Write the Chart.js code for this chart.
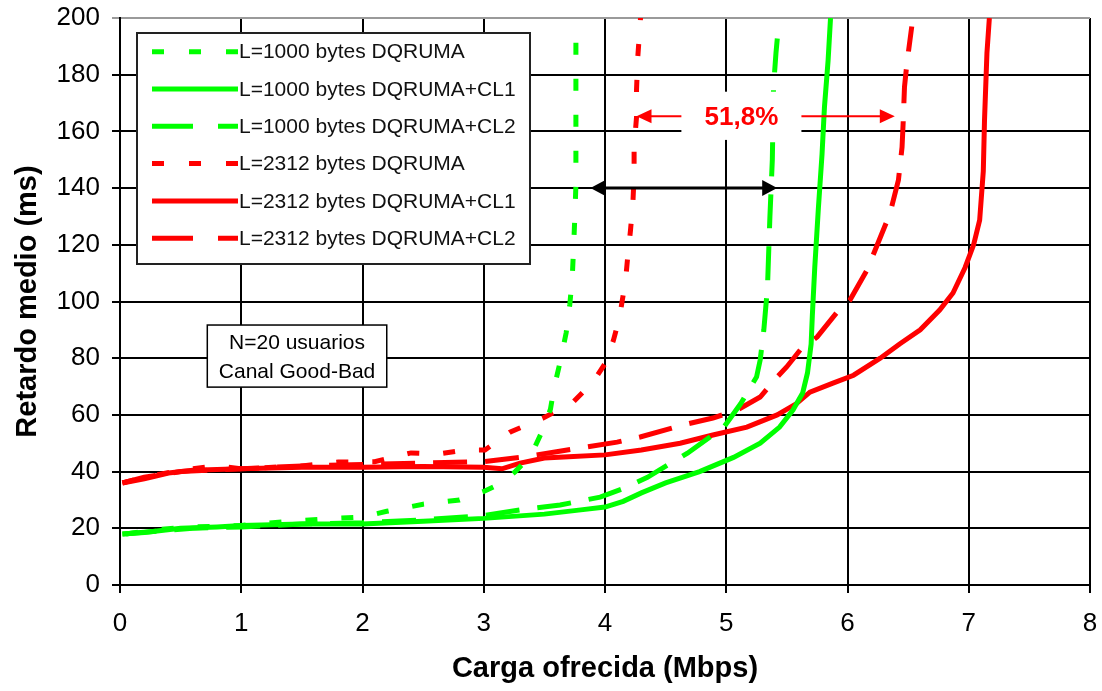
<!DOCTYPE html>
<html>
<head>
<meta charset="utf-8">
<script src="https://cdn.jsdelivr.net/npm/chart.js@4.4.1/dist/chart.umd.min.js"></script>
<style>
  html, body { margin: 0; padding: 0; background: #fff; }
  #wrap { width: 1102px; height: 691px; position: relative; }
</style>
</head>
<body>
<div id="wrap"><canvas id="chart"></canvas></div>
<script>
const seriesLabels = [
    'L=1000 bytes DQRUMA',
    'L=1000 bytes DQRUMA+CL1',
    'L=1000 bytes DQRUMA+CL2',
    'L=2312 bytes DQRUMA',
    'L=2312 bytes DQRUMA+CL1',
    'L=2312 bytes DQRUMA+CL2'
];
const xTicks = [0, 1, 2, 3, 4, 5, 6, 7, 8];
const yTicks = [0, 20, 40, 60, 80, 100, 120, 140, 160, 180, 200];

// L=1000 DQRUMA
const g1x = [0.05, 0.3, 0.6, 1.0, 1.4, 1.8, 2.0, 2.2, 2.5, 2.8, 3.0, 3.15, 3.26, 3.35, 3.41, 3.49, 3.55, 3.58, 3.63, 3.68, 3.71, 3.73, 3.74, 3.75, 3.76, 3.76, 3.76, 3.76, 3.76];
const g1y = [18, 19.5, 20.5, 21, 22.5, 23.6, 24, 26, 28.5, 30, 33, 36, 40, 44, 47.6, 55, 62, 69.5, 78.7, 89, 99, 108.6, 118, 128.7, 141, 153, 166, 177, 192];
// L=1000 DQRUMA+CL1
const g2x = [0.02, 0.2, 0.5, 0.8, 1.0, 1.5, 2.0, 2.5, 3.0, 3.5, 3.8, 4.0, 4.15, 4.3, 4.5, 4.78, 5.06, 5.28, 5.44, 5.55, 5.63, 5.67, 5.7, 5.71, 5.73, 5.76, 5.79, 5.81, 5.84, 5.86];
const g2y = [18, 18.5, 20, 20.5, 21, 21.5, 21.5, 22.5, 23.5, 25, 26.5, 27.5, 29.5, 32.5, 36, 40, 45, 50, 55.7, 61.7, 67.7, 74.8, 85, 95, 112, 133, 152, 168.6, 185, 200];
// L=1000 DQRUMA+CL2
const g3x = [0.02, 0.3, 0.6, 1.0, 1.5, 2.0, 2.5, 3.0, 3.3, 3.63, 3.96, 4.15, 4.35, 4.68, 4.98, 5.12, 5.25, 5.28, 5.31, 5.34, 5.36, 5.38, 5.39, 5.41, 5.43];
const g3y = [18, 19, 20, 20.5, 21.5, 22, 23, 24.5, 26.5, 28.2, 31, 34, 38, 46.5, 55.7, 64, 73.4, 79.4, 90, 105, 129.8, 150, 175.7, 187.6, 197];
// L=2312 DQRUMA
const r1x = [0.02, 0.2, 0.5, 0.8, 1.0, 1.5, 1.8, 2.1, 2.4, 2.62, 2.84, 3.01, 3.22, 3.49, 3.73, 3.9, 4.01, 4.07, 4.12, 4.17, 4.19, 4.21, 4.23, 4.24, 4.24, 4.26, 4.26, 4.27, 4.29, 4.3];
const r1y = [36, 38, 40.5, 42, 41, 42, 43.4, 43.5, 46.6, 46.2, 47.6, 47.6, 54, 58.9, 64.2, 71.6, 78.7, 86.4, 94.5, 107.6, 117, 125, 134.7, 144.6, 154.5, 165, 174.6, 186, 198, 205];
// L=2312 DQRUMA+CL1
const r2x = [0.02, 0.2, 0.4, 0.6, 1.0, 1.5, 2.0, 2.5, 3.0, 3.15, 3.3, 3.5, 3.7, 4.0, 4.3, 4.62, 4.89, 5.17, 5.42, 5.58, 5.69, 5.88, 6.05, 6.27, 6.43, 6.6, 6.76, 6.87, 6.97, 7.04, 7.09, 7.12, 7.13, 7.15, 7.17];
const r2y = [36, 37.5, 39.5, 40.5, 41, 41.5, 41.5, 41.8, 41.5, 41, 43, 44.8, 45.2, 45.9, 47.6, 50, 52.9, 55.7, 60, 64, 68, 71.2, 74, 80, 85, 90, 97, 103, 112, 120, 128.7, 146, 164, 187.6, 200];
// L=2312 DQRUMA+CL2
const r3x = [0.02, 0.2, 0.5, 1.0, 1.5, 2.0, 2.5, 3.0, 3.3, 3.6, 3.85, 4.1, 4.29, 4.64, 4.89, 5.09, 5.28, 5.42, 5.5, 5.61, 5.75, 5.91, 6.02, 6.16, 6.35, 6.42, 6.45, 6.46, 6.47, 6.49, 6.53];
const r3y = [36, 38, 40, 41, 42, 42.5, 43, 43.5, 45, 47, 48.7, 50.4, 52.2, 56.4, 58.9, 61.7, 66.3, 73.4, 77, 82.9, 87.5, 96, 100.5, 111, 131, 142.8, 154.5, 164, 175.7, 184, 197];

const green = '#00ff00';
const red = '#ff0000';
const dotted = [12, 24];
const longDash = [34, 18];
const fontFamily = "'Liberation Sans', Arial, sans-serif";

const series = [
    { xs: g1x, ys: g1y, color: green, dash: dotted, legendDash: [12, 25] },
    { xs: g2x, ys: g2y, color: green, dash: [], legendDash: [] },
    { xs: g3x, ys: g3y, color: green, dash: longDash, legendDash: [41, 25] },
    { xs: r1x, ys: r1y, color: red, dash: dotted, legendDash: [12, 25] },
    { xs: r2x, ys: r2y, color: red, dash: [], legendDash: [] },
    { xs: r3x, ys: r3y, color: red, dash: longDash, legendDash: [41, 25] }
];

function points(xs, ys) {
    return xs.map((v, i) => ({ x: v, y: ys[i] }));
}

function arrowHead(ctx, tipX, tipY, dir, len, half, color) {
    ctx.fillStyle = color;
    ctx.beginPath();
    ctx.moveTo(tipX, tipY);
    ctx.lineTo(tipX - dir * len, tipY - half);
    ctx.lineTo(tipX - dir * len, tipY + half);
    ctx.closePath();
    ctx.fill();
}

const overlay = {
    id: 'overlay',
    afterDatasetsDraw(chart) {
        const { ctx, chartArea, scales: { x, y } } = chart;
        ctx.save();
        ctx.setLineDash([]);

        // N=20 box
        const bx1 = x.getPixelForValue(0.72), bx2 = x.getPixelForValue(2.2);
        const by1 = y.getPixelForValue(91.7), by2 = y.getPixelForValue(69.8);
        ctx.fillStyle = '#fff';
        ctx.fillRect(bx1, by1, bx2 - bx1, by2 - by1);
        ctx.strokeStyle = '#000';
        ctx.lineWidth = 1.5;
        ctx.strokeRect(bx1, by1, bx2 - bx1, by2 - by1);
        ctx.fillStyle = '#000';
        ctx.font = '21px ' + fontFamily;
        ctx.textAlign = 'center';
        ctx.textBaseline = 'middle';
        ctx.fillText('N=20 usuarios', (bx1 + bx2) / 2, by1 + 18);
        ctx.fillText('Canal Good-Bad', (bx1 + bx2) / 2, by1 + 47);

        // black double arrow
        const ay = y.getPixelForValue(140);
        const ax1 = x.getPixelForValue(3.88), ax2 = x.getPixelForValue(5.42);
        ctx.strokeStyle = '#000';
        ctx.lineWidth = 3;
        ctx.beginPath();
        ctx.moveTo(ax1 + 10, ay);
        ctx.lineTo(ax2 - 10, ay);
        ctx.stroke();
        arrowHead(ctx, ax1, ay, -1, 15, 8, '#000');
        arrowHead(ctx, ax2, ay, 1, 15, 8, '#000');

        // 51,8% label with red arrows
        const lx1 = x.getPixelForValue(4.63), lx2 = x.getPixelForValue(5.62);
        const ly1 = y.getPixelForValue(174), ly2 = y.getPixelForValue(157);
        const ry = y.getPixelForValue(165.3);
        ctx.fillStyle = '#fff';
        ctx.fillRect(lx1, ly1, lx2 - lx1, ly2 - ly1);
        const tipL = x.getPixelForValue(4.26), tipR = x.getPixelForValue(6.39);
        ctx.strokeStyle = red;
        ctx.lineWidth = 2;
        ctx.beginPath();
        ctx.moveTo(lx1, ry);
        ctx.lineTo(tipL + 10, ry);
        ctx.moveTo(lx2, ry);
        ctx.lineTo(tipR - 10, ry);
        ctx.stroke();
        arrowHead(ctx, tipL, ry, -1, 15, 7, red);
        arrowHead(ctx, tipR, ry, 1, 15, 7, red);
        ctx.fillStyle = red;
        ctx.font = 'bold 26px ' + fontFamily;
        ctx.fillText('51,8%', (lx1 + lx2) / 2, ry + 1);

        // legend box
        const legL = chartArea.left + 17, legT = chartArea.top + 15;
        const legW = 393, legH = 231;
        ctx.fillStyle = '#fff';
        ctx.fillRect(legL, legT, legW, legH);
        ctx.strokeStyle = '#222';
        ctx.lineWidth = 2;
        ctx.strokeRect(legL, legT, legW, legH);
        ctx.font = '21px ' + fontFamily;
        ctx.textAlign = 'left';
        series.forEach((s, i) => {
            const rowY = legT + 18.7 + i * 37.3;
            ctx.strokeStyle = s.color;
            ctx.lineWidth = 5;
            ctx.setLineDash(s.legendDash);
            ctx.beginPath();
            ctx.moveTo(legL + 15, rowY);
            ctx.lineTo(legL + 101, rowY);
            ctx.stroke();
            ctx.setLineDash([]);
            ctx.fillStyle = '#111';
            ctx.fillText(seriesLabels[i], legL + 102, rowY + 1);
        });
        ctx.restore();
    }
};

const data = {
    datasets: series.map((s, i) => ({
        label: seriesLabels[i],
        data: points(s.xs, s.ys),
        borderColor: s.color,
        backgroundColor: s.color,
        borderWidth: 5,
        borderDash: s.dash,
        pointRadius: 0,
        tension: 0,
        fill: false
    }))
};

const config = {
    type: 'line',
    data: data,
    options: {
        responsive: true,
        maintainAspectRatio: false,
        animation: false,
        devicePixelRatio: 1,
        layout: { padding: { top: 18, right: 12, left: 0, bottom: 0 } },
        plugins: {
            legend: { display: false },
            tooltip: { enabled: false }
        },
        scales: {
            x: {
                type: 'linear',
                min: 0,
                max: 8,
                afterBuildTicks: scale => { scale.ticks = xTicks.map(v => ({ value: v })); },
                afterFit: scale => {
                    scale.height = 106;
                    scale.paddingLeft = 0;
                    scale.paddingRight = 0;
                },
                ticks: {
                    color: '#000',
                    padding: 15,
                    maxRotation: 0,
                    font: { family: fontFamily, size: 26 }
                },
                grid: { color: '#000', lineWidth: 2, tickLength: 8 },
                border: { color: '#000', width: 2 },
                title: {
                    display: true,
                    text: 'Carga ofrecida (Mbps)',
                    color: '#000',
                    font: { family: fontFamily, size: 29, weight: 'bold' },
                    padding: { top: 0, bottom: 5 }
                }
            },
            y: {
                type: 'linear',
                min: 0,
                max: 200,
                afterBuildTicks: scale => { scale.ticks = yTicks.map(v => ({ value: v })); },
                afterFit: scale => {
                    scale.width = 120;
                    scale.paddingTop = 0;
                    scale.paddingBottom = 0;
                },
                ticks: {
                    color: '#000',
                    padding: 12,
                    font: { family: fontFamily, size: 26 }
                },
                grid: {
                    color: c => (c.tick && c.tick.value === 200 ? '#9a9a9a' : '#000'),
                    lineWidth: 2,
                    tickLength: 8
                },
                border: { color: '#000', width: 2 },
                title: {
                    display: true,
                    text: 'Retardo medio (ms)',
                    color: '#000',
                    font: { family: fontFamily, size: 29, weight: 'bold' },
                    padding: { top: 11, bottom: 0 }
                }
            }
        }
    },
    plugins: [overlay]
};

new Chart(document.getElementById('chart'), config);
</script>
</body>
</html>
